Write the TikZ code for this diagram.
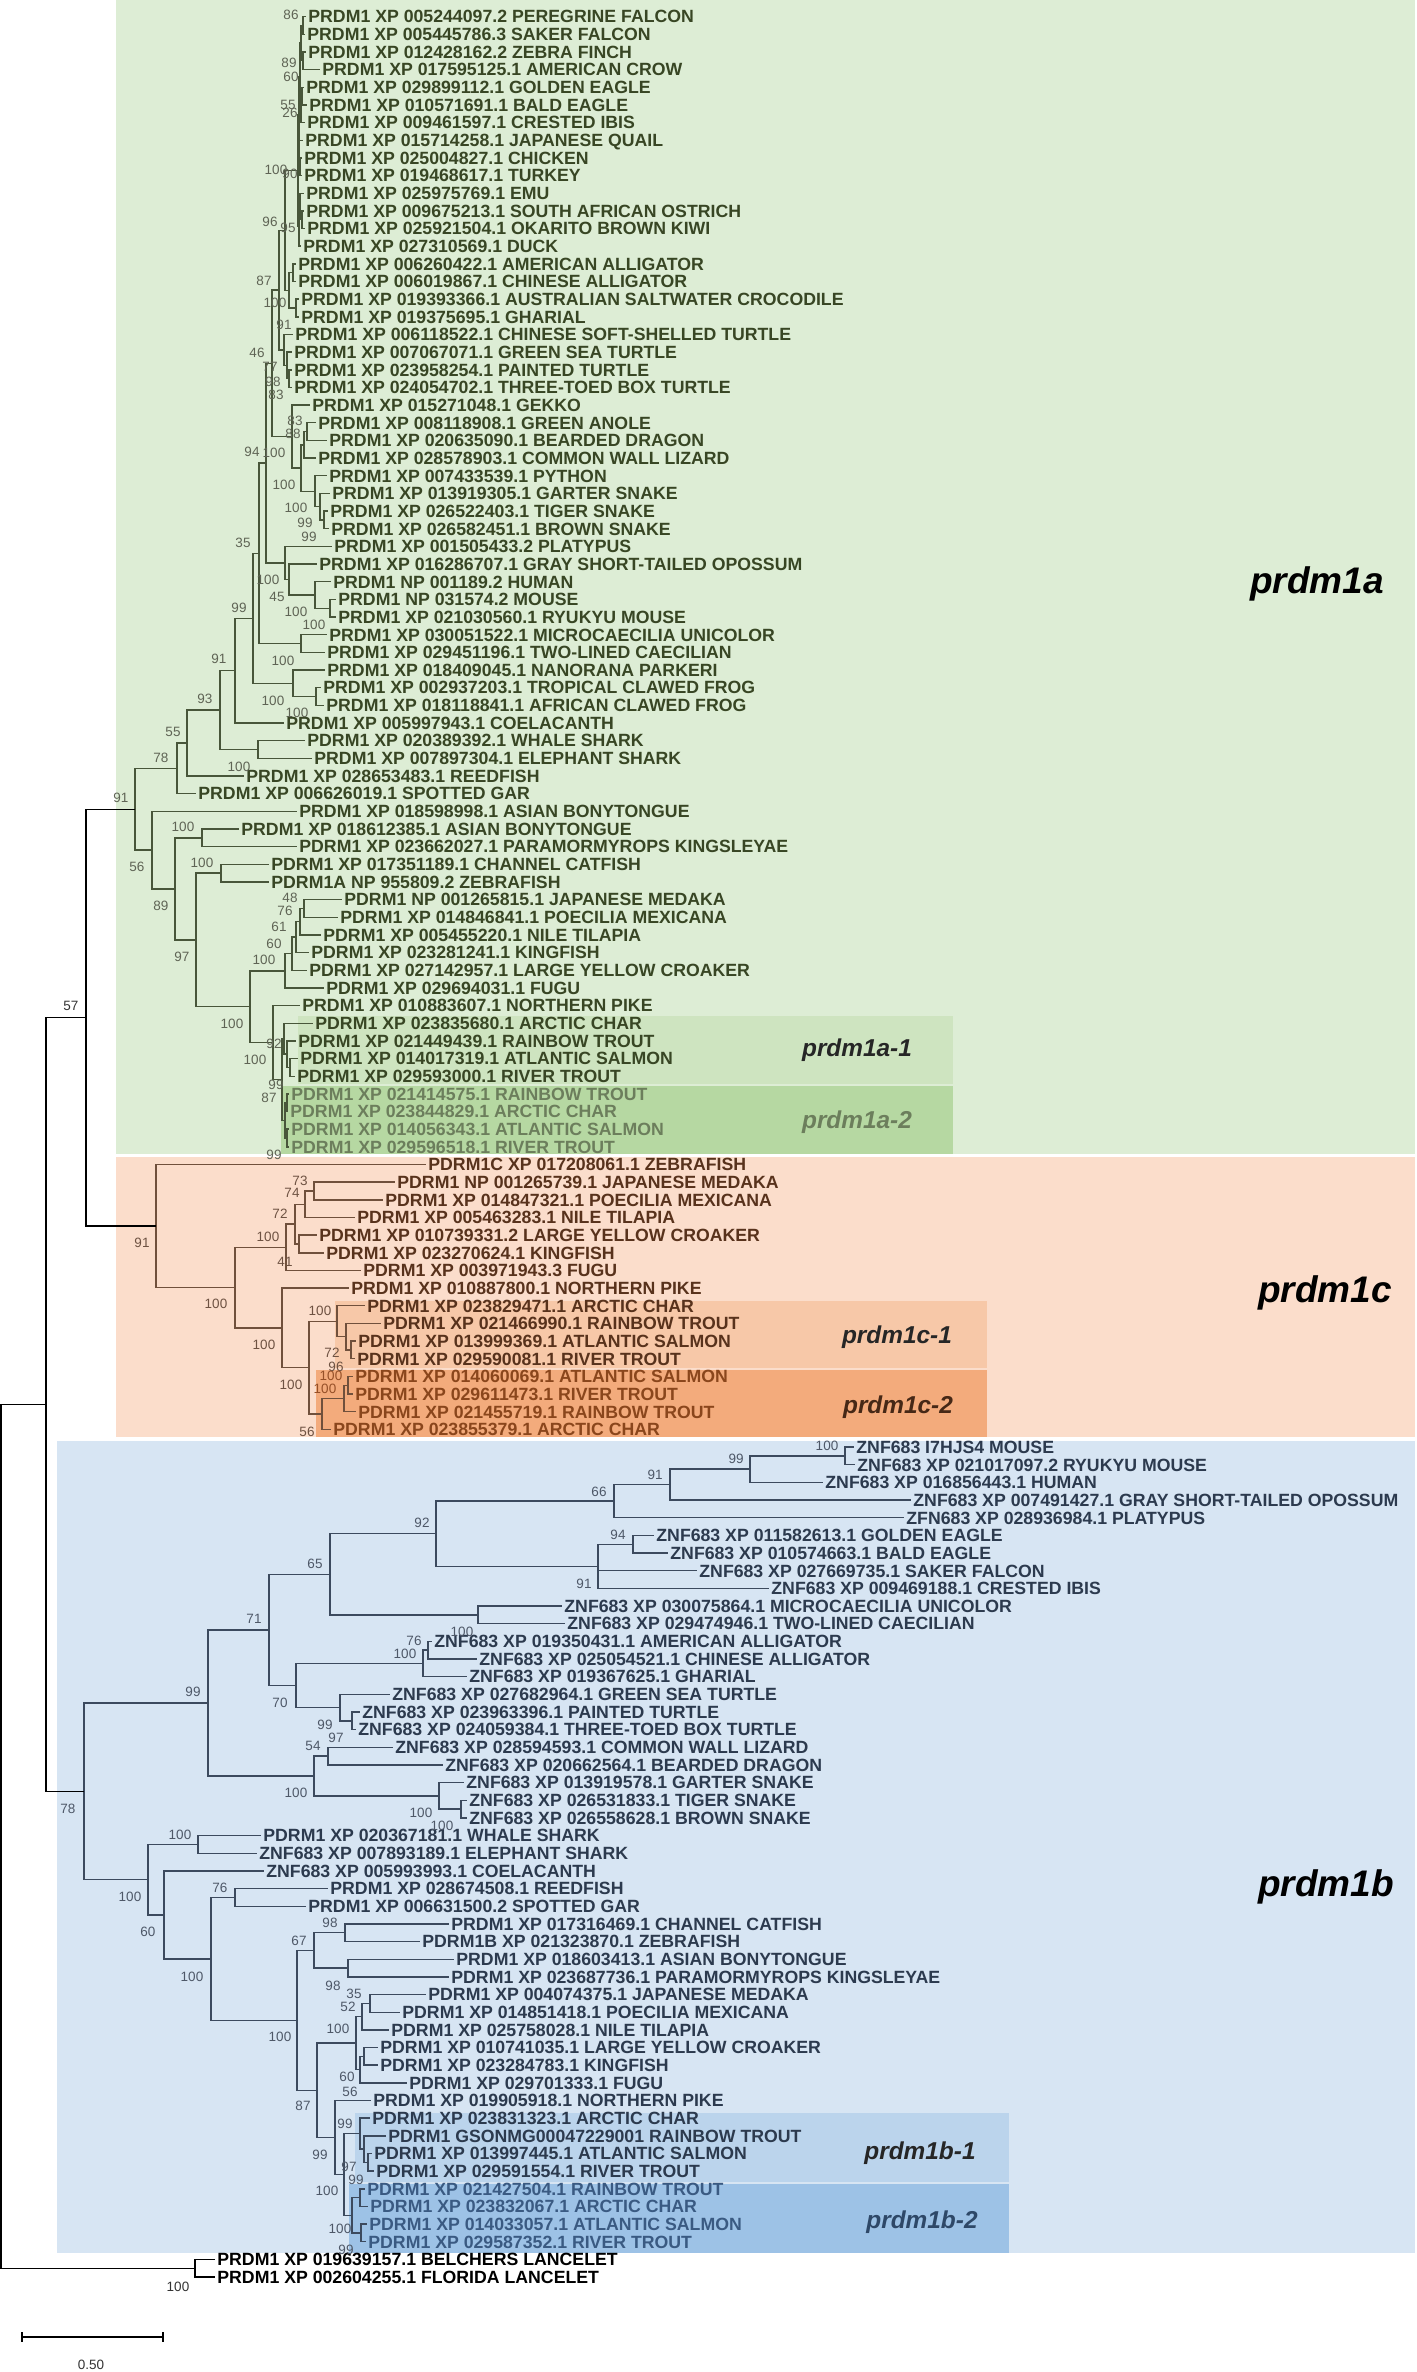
\documentclass[tikz,border=0pt]{standalone}
\usepackage{fontspec}
\setmainfont{Liberation Sans}
\usetikzlibrary{calc}
\definecolor{bgG}{RGB}{221,237,213}
\definecolor{bgG1}{RGB}{206,228,192}
\definecolor{bgG2}{RGB}{182,216,162}
\definecolor{bgO}{RGB}{251,221,203}
\definecolor{bgO1}{RGB}{247,200,168}
\definecolor{bgO2}{RGB}{243,171,124}
\definecolor{bgB}{RGB}{215,229,243}
\definecolor{bgB1}{RGB}{187,212,236}
\definecolor{bgB2}{RGB}{157,194,230}
\definecolor{txG}{RGB}{56,70,36}
\definecolor{txG2}{RGB}{108,126,92}
\definecolor{txO}{RGB}{88,50,28}
\definecolor{txO2}{RGB}{138,70,28}
\definecolor{txB}{RGB}{44,58,78}
\definecolor{txB2}{RGB}{58,90,130}
\definecolor{bsGc}{RGB}{95,100,85}
\definecolor{bsOc}{RGB}{110,82,66}
\definecolor{bsO2c}{RGB}{150,80,40}
\definecolor{bsBc}{RGB}{78,88,104}
\definecolor{lnG}{RGB}{72,86,58}
\definecolor{lnO}{RGB}{112,80,60}
\definecolor{lnB}{RGB}{60,74,94}
\tikzset{
  leaf/.style={anchor=west, inner xsep=1pt, inner ysep=0pt, text height=6.3pt, text depth=0pt,
    font=\fontsize{8.85}{9}\selectfont\bfseries},
  lG/.style={leaf,text=txG}, lG2/.style={leaf,text=txG2},
  lO/.style={leaf,text=txO}, lO2/.style={leaf,text=txO2},
  lB/.style={leaf,text=txB}, lB2/.style={leaf,text=txB2},
  lK/.style={leaf,text=black},
  bsl/.style={inner sep=0pt, font=\fontsize{6.75}{7}\selectfont},
  bG/.style={bsl,text=bsGc}, bO/.style={bsl,text=bsOc}, bO2/.style={bsl,text=bsO2c},
  bB/.style={bsl,text=bsBc}, bK/.style={bsl,text=black!80},
  br/.style={line width=0.7pt},
  brG/.style={br,draw=lnG}, brO/.style={br,draw=lnO}, brB/.style={br,draw=lnB}, brK/.style={br,draw=black},
  clade/.style={font=\fontsize{18.5}{20}\selectfont\bfseries\itshape, text=black, inner sep=0pt},
  subc/.style={font=\fontsize{12.2}{13}\selectfont\bfseries\itshape, inner sep=0pt},
}
\newcommand\tleaf[4]{\node[#4] (L#1) at (#2,{16.6+(#1-1)*17.66}) {#3};}
\newcommand\tboot[4]{\node[#4] (bs-#1-#2) at (#1,#2) {#3};}
\newcommand\tnode[5]{\path ($(#3)!0.5!(#4)$) coordinate (tmpmid);\coordinate (#1) at (#2,0 |- tmpmid);\draw[#5] (#1) |- (#3) (#1) |- (#4);}
\begin{document}
\begin{tikzpicture}[x=0.5pt,y=-0.5pt]
\useasboundingbox (0,0) rectangle (1417,2372);
% backgrounds
\fill[bgG] (116,0) rectangle (1415,1154);
\fill[bgG1] (298,1016) rectangle (953,1084);
\fill[bgG2] (281,1086) rectangle (953,1154);
\fill[bgO] (116,1157) rectangle (1415,1437);
\fill[bgO1] (335,1301) rectangle (987,1368);
\fill[bgO2] (316,1370) rectangle (987,1437);
\fill[bgB] (57,1441) rectangle (1415,2253);
\fill[bgB1] (355,2113) rectangle (1009,2182);
\fill[bgB2] (349,2184) rectangle (1009,2253);
% clade labels
\node[clade] (cla) at (1317,584) {prdm1a};
\node[clade] (clc) at (1325,1293) {prdm1c};
\node[clade] (clb) at (1326,1887) {prdm1b};
\node[subc,text=black!85] (sa1) at (857,1050) {prdm1a-1};
\node[subc,text=txG2] (sa2) at (857,1122) {prdm1a-2};
\node[subc,text=black!85] (sc1) at (897,1337) {prdm1c-1};
\node[subc,text=txO!80!black] (sc2) at (898,1407) {prdm1c-2};
\node[subc,text=black!85] (sb1) at (920,2153) {prdm1b-1};
\node[subc,text=txB2!80!black] (sb2) at (922,2222) {prdm1b-2};
% leaves prdm1a
\tleaf{1}{306}{PRDM1 XP 005244097.2 PEREGRINE FALCON}{lG}
\tleaf{2}{305}{PRDM1 XP 005445786.3 SAKER FALCON}{lG}
\tleaf{3}{306}{PRDM1 XP 012428162.2 ZEBRA FINCH}{lG}
\tleaf{4}{320}{PRDM1 XP 017595125.1 AMERICAN CROW}{lG}
\tleaf{5}{304}{PRDM1 XP 029899112.1 GOLDEN EAGLE}{lG}
\tleaf{6}{307}{PRDM1 XP 010571691.1 BALD EAGLE}{lG}
\tleaf{7}{305}{PRDM1 XP 009461597.1 CRESTED IBIS}{lG}
\tleaf{8}{303}{PRDM1 XP 015714258.1 JAPANESE QUAIL}{lG}
\tleaf{9}{302}{PRDM1 XP 025004827.1 CHICKEN}{lG}
\tleaf{10}{302}{PRDM1 XP 019468617.1 TURKEY}{lG}
\tleaf{11}{304}{PRDM1 XP 025975769.1 EMU}{lG}
\tleaf{12}{304}{PRDM1 XP 009675213.1 SOUTH AFRICAN OSTRICH}{lG}
\tleaf{13}{305}{PRDM1 XP 025921504.1 OKARITO BROWN KIWI}{lG}
\tleaf{14}{301}{PRDM1 XP 027310569.1 DUCK}{lG}
\tleaf{15}{296}{PRDM1 XP 006260422.1 AMERICAN ALLIGATOR}{lG}
\tleaf{16}{296}{PRDM1 XP 006019867.1 CHINESE ALLIGATOR}{lG}
\tleaf{17}{299}{PRDM1 XP 019393366.1 AUSTRALIAN SALTWATER CROCODILE}{lG}
\tleaf{18}{299}{PRDM1 XP 019375695.1 GHARIAL}{lG}
\tleaf{19}{293}{PRDM1 XP 006118522.1 CHINESE SOFT-SHELLED TURTLE}{lG}
\tleaf{20}{292}{PRDM1 XP 007067071.1 GREEN SEA TURTLE}{lG}
\tleaf{21}{292}{PRDM1 XP 023958254.1 PAINTED TURTLE}{lG}
\tleaf{22}{292}{PRDM1 XP 024054702.1 THREE-TOED BOX TURTLE}{lG}
\tleaf{23}{310}{PRDM1 XP 015271048.1 GEKKO}{lG}
\tleaf{24}{316}{PRDM1 XP 008118908.1 GREEN ANOLE}{lG}
\tleaf{25}{327}{PRDM1 XP 020635090.1 BEARDED DRAGON}{lG}
\tleaf{26}{316}{PRDM1 XP 028578903.1 COMMON WALL LIZARD}{lG}
\tleaf{27}{327}{PRDM1 XP 007433539.1 PYTHON}{lG}
\tleaf{28}{330}{PRDM1 XP 013919305.1 GARTER SNAKE}{lG}
\tleaf{29}{328}{PRDM1 XP 026522403.1 TIGER SNAKE}{lG}
\tleaf{30}{329}{PRDM1 XP 026582451.1 BROWN SNAKE}{lG}
\tleaf{31}{332}{PRDM1 XP 001505433.2 PLATYPUS}{lG}
\tleaf{32}{317}{PRDM1 XP 016286707.1 GRAY SHORT-TAILED OPOSSUM}{lG}
\tleaf{33}{331}{PRDM1 NP 001189.2 HUMAN}{lG}
\tleaf{34}{336}{PRDM1 NP 031574.2 MOUSE}{lG}
\tleaf{35}{336}{PRDM1 XP 021030560.1 RYUKYU MOUSE}{lG}
\tleaf{36}{327}{PRDM1 XP 030051522.1 MICROCAECILIA UNICOLOR}{lG}
\tleaf{37}{325}{PRDM1 XP 029451196.1 TWO-LINED CAECILIAN}{lG}
\tleaf{38}{325}{PRDM1 XP 018409045.1 NANORANA PARKERI}{lG}
\tleaf{39}{321}{PRDM1 XP 002937203.1 TROPICAL CLAWED FROG}{lG}
\tleaf{40}{324}{PRDM1 XP 018118841.1 AFRICAN CLAWED FROG}{lG}
\tleaf{41}{284}{PRDM1 XP 005997943.1 COELACANTH}{lG}
\tleaf{42}{305}{PDRM1 XP 020389392.1 WHALE SHARK}{lG}
\tleaf{43}{312}{PRDM1 XP 007897304.1 ELEPHANT SHARK}{lG}
\tleaf{44}{244}{PRDM1 XP 028653483.1 REEDFISH}{lG}
\tleaf{45}{196}{PRDM1 XP 006626019.1 SPOTTED GAR}{lG}
\tleaf{46}{297}{PRDM1 XP 018598998.1 ASIAN BONYTONGUE}{lG}
\tleaf{47}{239}{PRDM1 XP 018612385.1 ASIAN BONYTONGUE}{lG}
\tleaf{48}{297}{PDRM1 XP 023662027.1 PARAMORMYROPS KINGSLEYAE}{lG}
\tleaf{49}{269}{PDRM1 XP 017351189.1 CHANNEL CATFISH}{lG}
\tleaf{50}{269}{PDRM1A NP 955809.2 ZEBRAFISH}{lG}
\tleaf{51}{342}{PDRM1 NP 001265815.1 JAPANESE MEDAKA}{lG}
\tleaf{52}{338}{PDRM1 XP 014846841.1 POECILIA MEXICANA}{lG}
\tleaf{53}{321}{PDRM1 XP 005455220.1 NILE TILAPIA}{lG}
\tleaf{54}{309}{PDRM1 XP 023281241.1 KINGFISH}{lG}
\tleaf{55}{307}{PDRM1 XP 027142957.1 LARGE YELLOW CROAKER}{lG}
\tleaf{56}{324}{PDRM1 XP 029694031.1 FUGU}{lG}
\tleaf{57}{300}{PRDM1 XP 010883607.1 NORTHERN PIKE}{lG}
\tleaf{58}{313}{PDRM1 XP 023835680.1 ARCTIC CHAR}{lG}
\tleaf{59}{296}{PDRM1 XP 021449439.1 RAINBOW TROUT}{lG}
\tleaf{60}{298}{PDRM1 XP 014017319.1 ATLANTIC SALMON}{lG}
\tleaf{61}{295}{PDRM1 XP 029593000.1 RIVER TROUT}{lG}
\tleaf{62}{289}{PDRM1 XP 021414575.1 RAINBOW TROUT}{lG2}
\tleaf{63}{288}{PDRM1 XP 023844829.1 ARCTIC CHAR}{lG2}
\tleaf{64}{289}{PDRM1 XP 014056343.1 ATLANTIC SALMON}{lG2}
\tleaf{65}{289}{PDRM1 XP 029596518.1 RIVER TROUT}{lG2}
% leaves prdm1c
\tleaf{66}{426}{PDRM1C XP 017208061.1 ZEBRAFISH}{lO}
\tleaf{67}{395}{PDRM1 NP 001265739.1 JAPANESE MEDAKA}{lO}
\tleaf{68}{383}{PDRM1 XP 014847321.1 POECILIA MEXICANA}{lO}
\tleaf{69}{355}{PDRM1 XP 005463283.1 NILE TILAPIA}{lO}
\tleaf{70}{317}{PDRM1 XP 010739331.2 LARGE YELLOW CROAKER}{lO}
\tleaf{71}{324}{PDRM1 XP 023270624.1 KINGFISH}{lO}
\tleaf{72}{361}{PDRM1 XP 003971943.3 FUGU}{lO}
\tleaf{73}{349}{PRDM1 XP 010887800.1 NORTHERN PIKE}{lO}
\tleaf{74}{365}{PDRM1 XP 023829471.1 ARCTIC CHAR}{lO}
\tleaf{75}{381}{PDRM1 XP 021466990.1 RAINBOW TROUT}{lO}
\tleaf{76}{356}{PDRM1 XP 013999369.1 ATLANTIC SALMON}{lO}
\tleaf{77}{355}{PDRM1 XP 029590081.1 RIVER TROUT}{lO}
\tleaf{78}{353}{PDRM1 XP 014060069.1 ATLANTIC SALMON}{lO2}
\tleaf{79}{353}{PDRM1 XP 029611473.1 RIVER TROUT}{lO2}
\tleaf{80}{356}{PDRM1 XP 021455719.1 RAINBOW TROUT}{lO2}
\tleaf{81}{331}{PDRM1 XP 023855379.1 ARCTIC CHAR}{lO2}
% leaves prdm1b
\tleaf{82}{854}{ZNF683 I7HJS4 MOUSE}{lB}
\tleaf{83}{855}{ZNF683 XP 021017097.2 RYUKYU MOUSE}{lB}
\tleaf{84}{823}{ZNF683 XP 016856443.1 HUMAN}{lB}
\tleaf{85}{911}{ZNF683 XP 007491427.1 GRAY SHORT-TAILED OPOSSUM}{lB}
\tleaf{86}{904}{ZFN683 XP 028936984.1 PLATYPUS}{lB}
\tleaf{87}{654}{ZNF683 XP 011582613.1 GOLDEN EAGLE}{lB}
\tleaf{88}{668}{ZNF683 XP 010574663.1 BALD EAGLE}{lB}
\tleaf{89}{697}{ZNF683 XP 027669735.1 SAKER FALCON}{lB}
\tleaf{90}{769}{ZNF683 XP 009469188.1 CRESTED IBIS}{lB}
\tleaf{91}{562}{ZNF683 XP 030075864.1 MICROCAECILIA UNICOLOR}{lB}
\tleaf{92}{565}{ZNF683 XP 029474946.1 TWO-LINED CAECILIAN}{lB}
\tleaf{93}{432}{ZNF683 XP 019350431.1 AMERICAN ALLIGATOR}{lB}
\tleaf{94}{477}{ZNF683 XP 025054521.1 CHINESE ALLIGATOR}{lB}
\tleaf{95}{467}{ZNF683 XP 019367625.1 GHARIAL}{lB}
\tleaf{96}{390}{ZNF683 XP 027682964.1 GREEN SEA TURTLE}{lB}
\tleaf{97}{360}{ZNF683 XP 023963396.1 PAINTED TURTLE}{lB}
\tleaf{98}{356}{ZNF683 XP 024059384.1 THREE-TOED BOX TURTLE}{lB}
\tleaf{99}{393}{ZNF683 XP 028594593.1 COMMON WALL LIZARD}{lB}
\tleaf{100}{443}{ZNF683 XP 020662564.1 BEARDED DRAGON}{lB}
\tleaf{101}{464}{ZNF683 XP 013919578.1 GARTER SNAKE}{lB}
\tleaf{102}{467}{ZNF683 XP 026531833.1 TIGER SNAKE}{lB}
\tleaf{103}{467}{ZNF683 XP 026558628.1 BROWN SNAKE}{lB}
\tleaf{104}{261}{PDRM1 XP 020367181.1 WHALE SHARK}{lB}
\tleaf{105}{257}{ZNF683 XP 007893189.1 ELEPHANT SHARK}{lB}
\tleaf{106}{264}{ZNF683 XP 005993993.1 COELACANTH}{lB}
\tleaf{107}{328}{PRDM1 XP 028674508.1 REEDFISH}{lB}
\tleaf{108}{306}{PRDM1 XP 006631500.2 SPOTTED GAR}{lB}
\tleaf{109}{449}{PRDM1 XP 017316469.1 CHANNEL CATFISH}{lB}
\tleaf{110}{420}{PDRM1B XP 021323870.1 ZEBRAFISH}{lB}
\tleaf{111}{454}{PRDM1 XP 018603413.1 ASIAN BONYTONGUE}{lB}
\tleaf{112}{449}{PDRM1 XP 023687736.1 PARAMORMYROPS KINGSLEYAE}{lB}
\tleaf{113}{426}{PDRM1 XP 004074375.1 JAPANESE MEDAKA}{lB}
\tleaf{114}{400}{PDRM1 XP 014851418.1 POECILIA MEXICANA}{lB}
\tleaf{115}{389}{PDRM1 XP 025758028.1 NILE TILAPIA}{lB}
\tleaf{116}{378}{PDRM1 XP 010741035.1 LARGE YELLOW CROAKER}{lB}
\tleaf{117}{378}{PDRM1 XP 023284783.1 KINGFISH}{lB}
\tleaf{118}{407}{PDRM1 XP 029701333.1 FUGU}{lB}
\tleaf{119}{371}{PRDM1 XP 019905918.1 NORTHERN PIKE}{lB}
\tleaf{120}{370}{PDRM1 XP 023831323.1 ARCTIC CHAR}{lB}
\tleaf{121}{386}{PDRM1 GSONMG00047229001 RAINBOW TROUT}{lB}
\tleaf{122}{372}{PDRM1 XP 013997445.1 ATLANTIC SALMON}{lB}
\tleaf{123}{374}{PDRM1 XP 029591554.1 RIVER TROUT}{lB}
\tleaf{124}{365}{PDRM1 XP 021427504.1 RAINBOW TROUT}{lB2}
\tleaf{125}{368}{PDRM1 XP 023832067.1 ARCTIC CHAR}{lB2}
\tleaf{126}{367}{PDRM1 XP 014033057.1 ATLANTIC SALMON}{lB2}
\tleaf{127}{366}{PDRM1 XP 029587352.1 RIVER TROUT}{lB2}
\tleaf{128}{215}{PRDM1 XP 019639157.1 BELCHERS LANCELET}{lK}
\tleaf{129}{215}{PRDM1 XP 002604255.1 FLORIDA LANCELET}{lK}
% tree prdm1a
\tnode{a1}{303}{L1}{L2}{brG}
\tnode{a2}{303}{L3}{L4}{brG}
\tnode{a3}{301}{a1}{a2}{brG}
\tnode{a4}{302}{L5}{L6}{brG}
\tnode{a5}{301}{a4}{L7}{brG}
\tnode{a6}{300}{a3}{a5}{brG}
\tnode{a7}{300}{L9}{L10}{brG}
\tnode{a8}{299.5}{L8}{a7}{brG}
\tnode{a9}{302}{L12}{L13}{brG}
\tnode{a10}{300}{L11}{a9}{brG}
\tnode{b1}{299}{a6}{a8}{brG}
\tnode{b2}{299}{a10}{L14}{brG}
\tnode{BIRDS}{298}{b1}{b2}{brG}
\tnode{CR1}{293}{L15}{L16}{brG}
\tnode{CR2}{296}{L17}{L18}{brG}
\tnode{CROC}{289}{CR1}{CR2}{brG}
\tnode{ARCH}{285}{BIRDS}{CROC}{brG}
\tnode{TU3}{289}{L21}{L22}{brG}
\tnode{TU2}{287}{L20}{TU3}{brG}
\tnode{TU}{284}{L19}{TU2}{brG}
\tnode{ARCHEL}{279}{ARCH}{TU}{brG}
\tnode{LZ2}{307}{L24}{L25}{brG}
\tnode{LZ1}{304}{LZ2}{L26}{brG}
\tnode{SN3}{324}{L29}{L30}{brG}
\tnode{SN2}{320}{L28}{SN3}{brG}
\tnode{SN1}{315}{L27}{SN2}{brG}
\tnode{SQ2}{301}{LZ1}{SN1}{brG}
\tnode{SQ}{292}{L23}{SQ2}{brG}
\tnode{SAUR}{272}{ARCHEL}{SQ}{brG}
\tnode{M3}{330}{L34}{L35}{brG}
\tnode{M2}{315}{L33}{M3}{brG}
\tnode{M1}{289}{L32}{M2}{brG}
\tnode{MAM}{285}{L31}{M1}{brG}
\tnode{AMN}{266}{SAUR}{MAM}{brG}
\tnode{CAEC}{301}{L36}{L37}{brG}
\tnode{TET1}{259}{AMN}{CAEC}{brG}
\tnode{AN2}{316}{L39}{L40}{brG}
\tnode{AN}{293}{L38}{AN2}{brG}
\tnode{A5}{253}{TET1}{AN}{brG}
\tnode{A4}{235}{A5}{L41}{brG}
\tnode{SHK}{258}{L42}{L43}{brG}
\tnode{A3}{220}{A4}{SHK}{brG}
\tnode{A2}{187}{A3}{L44}{brG}
\tnode{A1}{177}{A2}{L45}{brG}
\tnode{T3}{202}{L47}{L48}{brG}
\tnode{T5}{221}{L49}{L50}{brG}
\tnode{W}{304}{L51}{L52}{brG}
\tnode{ZZ}{300}{W}{L53}{brG}
\tnode{YY}{296}{ZZ}{L54}{brG}
\tnode{XX}{292}{YY}{L55}{brG}
\tnode{ACAN}{285}{XX}{L56}{brG}
\tnode{a1c}{290}{L60}{L61}{brG}
\tnode{a1b}{287}{L59}{a1c}{brG}
\tnode{aa1}{284}{L58}{a1b}{brG}
\tnode{a2a}{287}{L62}{L63}{brG}
\tnode{a2b}{287}{L64}{L65}{brG}
\tnode{aa2}{285}{a2a}{a2b}{brG}
\tnode{WGD}{282}{aa1}{aa2}{brG}
\tnode{SALM}{273}{L57}{WGD}{brG}
\tnode{T6}{250}{ACAN}{SALM}{brG}
\tnode{T4}{196}{T5}{T6}{brG}
\tnode{T2}{175}{T3}{T4}{brG}
\tnode{T1}{152}{L46}{T2}{brG}
\tnode{T0}{135}{A1}{T1}{brG}
% tree prdm1c
\tnode{C5}{314}{L67}{L68}{brO}
\tnode{C4}{305}{C5}{L69}{brO}
\tnode{C6}{299}{L70}{L71}{brO}
\tnode{C3}{295}{C4}{C6}{brO}
\tnode{ACANC}{286}{C3}{L72}{brO}
\tnode{c1c}{351}{L76}{L77}{brO}
\tnode{c1b}{346}{L75}{c1c}{brO}
\tnode{cc1}{337}{L74}{c1b}{brO}
\tnode{c2c}{348}{L78}{L79}{brO}
\tnode{c2b}{344}{c2c}{L80}{brO}
\tnode{cc2}{322}{c2b}{L81}{brO}
\tnode{WGDC}{309}{cc1}{cc2}{brO}
\tnode{SALMC}{282}{L73}{WGDC}{brO}
\tnode{C1}{235}{ACANC}{SALMC}{brO}
\tnode{C0}{156}{L66}{C1}{brO}
\tnode{N57}{86}{T0}{C0}{brK}
% tree prdm1b
\tnode{MZ3}{845}{L82}{L83}{brB}
\tnode{MZ2}{750}{MZ3}{L84}{brB}
\tnode{MZ1}{670}{MZ2}{L85}{brB}
\tnode{MAMZ}{614}{MZ1}{L86}{brB}
\tnode{EAG}{633}{L87}{L88}{brB}
\tnode{BIRDZ}{598}{EAG}{L90}{brB}
\draw[brB] (BIRDZ) |- (L89);
\tnode{Z3}{436}{MAMZ}{BIRDZ}{brB}
\tnode{CAECZ}{478}{L91}{L92}{brB}
\tnode{Z2}{330}{Z3}{CAECZ}{brB}
\tnode{AL}{428}{L93}{L94}{brB}
\tnode{CRZ}{423}{AL}{L95}{brB}
\tnode{TU2Z}{352}{L97}{L98}{brB}
\tnode{TUZ}{340}{L96}{TU2Z}{brB}
\tnode{ARZ}{296}{CRZ}{TUZ}{brB}
\tnode{Z1}{269}{Z2}{ARZ}{brB}
\tnode{LIZ}{328}{L99}{L100}{brB}
\tnode{TB}{461}{L102}{L103}{brB}
\tnode{SNZ}{439}{L101}{TB}{brB}
\tnode{SQZ}{314}{LIZ}{SNZ}{brB}
\tnode{Z0}{208}{Z1}{SQZ}{brB}
\tnode{SHB}{198}{L104}{L105}{brB}
\tnode{HOLO}{235}{L107}{L108}{brB}
\tnode{OST1}{345}{L109}{L110}{brB}
\tnode{OST2}{348}{L111}{L112}{brB}
\tnode{OST}{314}{OST1}{OST2}{brB}
\tnode{MP}{370}{L113}{L114}{brB}
\tnode{MPT}{362}{MP}{L115}{brB}
\tnode{CK}{364}{L116}{L117}{brB}
\tnode{CKF}{360}{CK}{L118}{brB}
\tnode{ACANB}{356}{MPT}{CKF}{brB}
\tnode{bb1c}{368}{L122}{L123}{brB}
\tnode{bb1b}{364}{L121}{bb1c}{brB}
\tnode{bb1}{360}{L120}{bb1b}{brB}
\tnode{bb2a}{360}{L124}{L125}{brB}
\tnode{bb2b}{361}{L126}{L127}{brB}
\tnode{bb2}{352}{bb2a}{bb2b}{brB}
\tnode{WGDB}{344}{bb1}{bb2}{brB}
\tnode{SALMB}{335}{L119}{WGDB}{brB}
\tnode{EUTEL}{317}{ACANB}{SALMB}{brB}
\tnode{TEL}{297}{OST}{EUTEL}{brB}
\tnode{FB2}{211}{HOLO}{TEL}{brB}
\tnode{FB1}{164}{L106}{FB2}{brB}
\tnode{FB0}{148}{SHB}{FB1}{brB}
\tnode{B0}{84}{Z0}{FB0}{brB}
\tnode{N45}{46}{N57}{B0}{brK}
\tnode{LANC}{195}{L128}{L129}{brK}
\tnode{ROOT}{1}{N45}{LANC}{brK}
% bootstrap values prdm1a
\tboot{291}{15}{86}{bG}
\tboot{289}{63}{89}{bG}
\tboot{291}{77}{60}{bG}
\tboot{288}{105}{55}{bG}
\tboot{290}{113}{26}{bG}
\tboot{276}{170}{100}{bG}
\tboot{290}{174}{90}{bG}
\tboot{270}{222}{96}{bG}
\tboot{288}{228}{95}{bG}
\tboot{264}{281}{87}{bG}
\tboot{275}{303}{100}{bG}
\tboot{284}{325}{91}{bG}
\tboot{257}{353}{46}{bG}
\tboot{270}{367}{77}{bG}
\tboot{273}{382}{98}{bG}
\tboot{276}{395}{83}{bG}
\tboot{295}{421}{83}{bG}
\tboot{293}{434}{88}{bG}
\tboot{252}{452}{94}{bG}
\tboot{274}{453}{100}{bG}
\tboot{284}{485}{100}{bG}
\tboot{296}{508}{100}{bG}
\tboot{305}{523}{99}{bG}
\tboot{309}{537}{99}{bG}
\tboot{243}{543}{35}{bG}
\tboot{268}{580}{100}{bG}
\tboot{277}{597}{45}{bG}
\tboot{239}{608}{99}{bG}
\tboot{296}{612}{100}{bG}
\tboot{314}{625}{100}{bG}
\tboot{219}{659}{91}{bG}
\tboot{283}{661}{100}{bG}
\tboot{205}{699}{93}{bG}
\tboot{273}{701}{100}{bG}
\tboot{297}{713}{100}{bG}
\tboot{173}{732}{55}{bG}
\tboot{161}{758}{78}{bG}
\tboot{239}{767}{100}{bG}
\tboot{121}{798}{91}{bG}
\tboot{183}{827}{100}{bG}
\tboot{202}{863}{100}{bG}
\tboot{137}{867}{56}{bG}
\tboot{290}{898}{48}{bG}
\tboot{161}{906}{89}{bG}
\tboot{285}{911}{76}{bG}
\tboot{279}{927}{61}{bG}
\tboot{274}{944}{60}{bG}
\tboot{182}{957}{97}{bG}
\tboot{264}{960}{100}{bG}
\tboot{232}{1024}{100}{bG}
\tboot{274}{1044}{92}{bG}
\tboot{255}{1060}{100}{bG}
\tboot{276}{1085}{99}{bG}
\tboot{269}{1098}{87}{bG}
\tboot{274}{1155}{99}{bG}
\tboot{71}{1006}{57}{bK}
% bootstrap values prdm1c
\tboot{300}{1181}{73}{bO}
\tboot{292}{1193}{74}{bO}
\tboot{280}{1214}{72}{bO}
\tboot{268}{1237}{100}{bO}
\tboot{142}{1243}{91}{bO}
\tboot{285}{1262}{41}{bO}
\tboot{216}{1304}{100}{bO}
\tboot{320}{1311}{100}{bO}
\tboot{264}{1345}{100}{bO}
\tboot{332}{1353}{72}{bO}
\tboot{336}{1367}{96}{bO}
\tboot{331}{1376}{100}{bO2}
\tboot{291}{1385}{100}{bO}
\tboot{325}{1389}{100}{bO2}
\tboot{307}{1432}{56}{bO}
% bootstrap values prdm1b
\tboot{827}{1446}{100}{bB}
\tboot{736}{1459}{99}{bB}
\tboot{655}{1475}{91}{bB}
\tboot{599}{1492}{66}{bB}
\tboot{422}{1523}{92}{bB}
\tboot{618}{1535}{94}{bB}
\tboot{315}{1564}{65}{bB}
\tboot{584}{1584}{91}{bB}
\tboot{254}{1619}{71}{bB}
\tboot{462}{1632}{100}{bB}
\tboot{414}{1641}{76}{bB}
\tboot{405}{1654}{100}{bB}
\tboot{193}{1692}{99}{bB}
\tboot{280}{1703}{70}{bB}
\tboot{325}{1725}{99}{bB}
\tboot{336}{1738}{97}{bB}
\tboot{313}{1746}{54}{bB}
\tboot{296}{1793}{100}{bB}
\tboot{68}{1809}{78}{bB}
\tboot{421}{1813}{100}{bB}
\tboot{442}{1826}{100}{bB}
\tboot{180}{1835}{100}{bB}
\tboot{220}{1888}{76}{bB}
\tboot{130}{1897}{100}{bB}
\tboot{330}{1923}{98}{bB}
\tboot{148}{1932}{60}{bB}
\tboot{299}{1941}{67}{bB}
\tboot{192}{1977}{100}{bB}
\tboot{333}{1986}{98}{bB}
\tboot{354}{1994}{35}{bB}
\tboot{348}{2007}{52}{bB}
\tboot{338}{2029}{100}{bB}
\tboot{280}{2037}{100}{bB}
\tboot{347}{2077}{60}{bB}
\tboot{350}{2092}{56}{bB}
\tboot{303}{2106}{87}{bB}
\tboot{345}{2124}{99}{bB}
\tboot{320}{2155}{99}{bB}
\tboot{349}{2167}{97}{bB}
\tboot{356}{2180}{99}{bB}
\tboot{327}{2191}{100}{bB}
\tboot{340}{2229}{100}{bB}
\tboot{346}{2250}{99}{bB}
\tboot{178}{2287}{100}{bK}
% scale bar
\coordinate (sbl) at (22,2337);
\coordinate (sbr) at (163,2337);
\draw[line width=0.8pt] (sbl) -- (sbr);
\draw[line width=0.8pt] (sbl) ++(0,-5) -- ++(0,10);
\draw[line width=0.8pt] (sbr) ++(0,-5) -- ++(0,10);
\node[bsl,text=black!80] (sblab) at (91,2365) {0.50};
\end{tikzpicture}
\end{document}
